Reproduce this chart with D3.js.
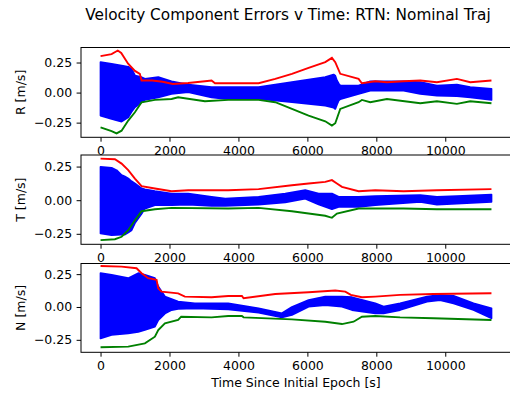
<!DOCTYPE html>
<html>
<head>
<meta charset="utf-8">
<script src="https://cdn.jsdelivr.net/npm/d3@7"></script>
<style>
  body { margin: 0; background: #fff; }
  svg { display: block; font-family: "DejaVu Sans", sans-serif; }
</style>
</head>
<body>
<div id="chart"></div>
<script>
// x ticks shared by the three panels
const xTicks = [0, 2000, 4000, 6000, 8000, 10000];
const yTicks = [-0.25, 0, 0.25];

// R component: [time s, value m/s]
const rUpper = [[0,0.303],[320,0.32],[500,0.35],[600,0.33],[800,0.24],[997,0.18],[1140,0.156],[1190,0.10],[1500,0.1],[1800,0.09],[2100,0.072],[2540,0.08],[3030,0.094],[3220,0.1],[3320,0.078],[3700,0.078],[4585,0.078],[5068,0.114],[5552,0.156],[6035,0.206],[6519,0.253],[6712,0.289],[6809,0.253],[6954,0.156],[7486,0.114],[7580,0.078],[7969,0.094],[8308,0.086],[8791,0.094],[9275,0.1],[9758,0.086],[10338,0.114],[10725,0.086],[11340,0.1]];
const rLower = [[0,-0.289],[320,-0.32],[465,-0.339],[610,-0.317],[803,-0.233],[997,-0.164],[1190,-0.081],[1577,-0.061],[2060,-0.053],[2250,-0.039],[3027,-0.072],[3704,-0.061],[4585,-0.061],[5068,-0.08],[5552,-0.136],[6035,-0.191],[6519,-0.239],[6712,-0.275],[6809,-0.255],[6954,-0.136],[7486,-0.08],[7582,-0.061],[7824,-0.08],[8308,-0.053],[9275,-0.089],[9758,-0.072],[10338,-0.094],[10725,-0.072],[11340,-0.089]];
// runs envelope: [time, top, bottom]
const rRuns = [[0,0.253,-0.191],[320,0.239,-0.219],[610,0.225,-0.241],[803,0.214,-0.205],[900,0.197,-0.16],[997,0.142,-0.122],[1190,0.128,-0.081],[1286,0.114,-0.06],[1674,0.128,-0.039],[2060,0.094,-0.011],[2544,0.067,0.003],[3220,0.045,-0.04],[3618,0.045,-0.053],[4585,0.045,-0.053],[5552,0.086,-0.08],[6519,0.128,-0.108],[6760,0.15,-0.125],[6809,0.14,-0.136],[6857,0.1,-0.1],[6906,0.075,-0.067],[6954,0.058,-0.055],[7486,0.058,-0.011],[7824,0.094,0.017],[8791,0.094,0.017],[9275,0.086,-0.011],[9758,0.058,-0.025],[10338,0.067,-0.03],[10725,0.045,-0.039],[11340,0.031,-0.061]];

// T component
const tUpper = [[0,0.309],[417,0.304],[610,0.272],[803,0.223],[997,0.161],[1190,0.104],[1577,0.087],[2060,0.067],[2544,0.074],[3704,0.074],[4585,0.082],[5552,0.111],[6035,0.124],[6519,0.136],[6712,0.149],[6857,0.124],[7003,0.099],[7486,0.067],[7969,0.074],[8791,0.067],[9758,0.074],[11340,0.082]];
const tLower = [[0,-0.297],[417,-0.29],[610,-0.272],[803,-0.223],[997,-0.149],[1190,-0.082],[1577,-0.067],[2060,-0.057],[3704,-0.062],[4585,-0.057],[5552,-0.082],[6035,-0.099],[6519,-0.116],[6712,-0.131],[6857,-0.099],[7486,-0.062],[8791,-0.062],[9758,-0.067],[11340,-0.067]];
const tRuns = [[0,0.247,-0.247],[320,0.24,-0.26],[465,0.223,-0.258],[610,0.186,-0.256],[707,0.175,-0.255],[803,0.161,-0.24],[900,0.14,-0.223],[997,0.124,-0.17],[1190,0.087,-0.1],[1286,0.08,-0.062],[1577,0.067,-0.037],[2060,0.049,-0.037],[2544,0.049,-0.032],[3220,0.025,-0.042],[3618,0.012,-0.042],[4585,0.025,-0.032],[5358,0.049,-0.017],[5938,0.074,0.012],[6326,0.049,-0.032],[6712,0.049,-0.067],[6906,0.025,-0.05],[7486,0.025,-0.05],[7969,0.03,-0.037],[9275,0.037,-0.012],[9758,0.025,-0.032],[10338,0.03,-0.025],[11340,0.042,-0.012]];

// N component
const nUpper = [[0,0.312],[610,0.307],[1045,0.295],[1190,0.257],[1383,0.219],[1625,0.206],[1674,0.142],[1770,0.117],[2250,0.104],[2447,0.079],[3220,0.074],[3704,0.084],[4101,0.084],[4150,0.066],[5068,0.099],[6035,0.112],[6809,0.125],[7100,0.117],[7260,0.092],[7582,0.074],[7969,0.079],[8690,0.092],[9657,0.099],[11340,0.104]];
const nLower = [[0,-0.307],[803,-0.302],[1286,-0.277],[1577,-0.226],[1674,-0.175],[1867,-0.124],[2250,-0.099],[2340,-0.074],[3220,-0.079],[3704,-0.069],[4101,-0.069],[4150,-0.079],[5552,-0.094],[6519,-0.112],[7003,-0.13],[7340,-0.112],[7582,-0.074],[7969,-0.069],[8690,-0.079],[9657,-0.086],[11340,-0.099]];
const nRuns = [[0,0.257,-0.239],[320,0.244,-0.213],[803,0.219,-0.2],[1093,0.257,-0.19],[1286,0.244,-0.175],[1577,0.219,-0.15],[1674,0.155,-0.1],[1867,0.079,-0.05],[2060,0.06,-0.023],[2250,0.041,-0.015],[2737,0.028,-0.01],[3704,0.028,-0.018],[4585,-0.01,-0.043],[5261,-0.048,-0.079],[5552,0,-0.061],[6035,0.053,0.003],[6519,0.079,0.015],[7003,0.079,0.003],[7294,0.074,-0.023],[7969,0.028,-0.048],[8211,0.003,-0.048],[8690,0.028,-0.023],[9470,0.079,0.041],[9850,0.092,0.053],[10240,0.084,0.028],[10820,0.028,-0.023],[11340,-0.01,-0.086]];

const width = 510, height = 396;
const left = 81, right = 511;
const fs = 12.5;     // 10pt at 90 dpi
const tick = 4.4;    // 3.5pt

const svg = d3.select("#chart").append("svg")
  .attr("width", width)
  .attr("height", height);

const x = d3.scaleLinear().domain([-567, 11907]).range([left, right]);

const panels = [
  { label: "R [m/s]", top: 47.5, bottom: 137.3, yDom: [-0.372, 0.375], upper: rUpper, lower: rLower, runs: rRuns },
  { label: "T [m/s]", top: 155, bottom: 244.3, yDom: [-0.328, 0.336], upper: tUpper, lower: tLower, runs: tRuns },
  { label: "N [m/s]", top: 263.5, bottom: 352.3, yDom: [-0.345, 0.331], upper: nUpper, lower: nLower, runs: nRuns }
];

const fmtY = d => d === 0 ? "0.00" : d3.format(".2f")(d).replace("-", "\u2212");

panels.forEach(p => {
  const y = d3.scaleLinear().domain(p.yDom).range([p.bottom, p.top]);
  const g = svg.append("g");

  // white axes background covers tick labels of the panel above
  g.append("rect")
    .attr("x", left).attr("y", p.top)
    .attr("width", right - left).attr("height", p.bottom - p.top)
    .attr("fill", "#fff");

  const clipId = "clip" + p.label[0];
  g.append("clipPath").attr("id", clipId)
    .append("rect")
    .attr("x", left).attr("y", p.top)
    .attr("width", right - left).attr("height", p.bottom - p.top);

  const plot = g.append("g").attr("clip-path", `url(#${clipId})`);

  const area = d3.area()
    .x(d => x(d[0]))
    .y0(d => y(d[2]))
    .y1(d => y(d[1]));

  plot.append("path")
    .datum(p.runs)
    .attr("d", area)
    .attr("fill", "#0000ff")
    .attr("stroke", "#0000ff")
    .attr("stroke-width", 1.8)
    .attr("stroke-linejoin", "round");

  const line = d3.line().x(d => x(d[0])).y(d => y(d[1]));

  plot.append("path").datum(p.upper)
    .attr("d", line).attr("fill", "none")
    .attr("stroke", "#ff0000").attr("stroke-width", 1.9);
  plot.append("path").datum(p.lower)
    .attr("d", line).attr("fill", "none")
    .attr("stroke", "#008000").attr("stroke-width", 1.9);

  // axes
  const xAxis = d3.axisBottom(x).tickValues(xTicks).tickFormat(d3.format("d"))
    .tickSizeInner(tick).tickSizeOuter(0).tickPadding(tick);
  const gx = g.append("g").attr("transform", `translate(0,${p.bottom})`).call(xAxis);

  const yAxis = d3.axisLeft(y).tickValues(yTicks).tickFormat(fmtY)
    .tickSizeInner(tick).tickSizeOuter(0).tickPadding(tick);
  const gy = g.append("g").attr("transform", `translate(${left},0)`).call(yAxis);

  [gx, gy].forEach(a => {
    a.select(".domain").remove();
    a.selectAll(".tick line").attr("stroke", "#000").attr("stroke-width", 1);
    a.selectAll(".tick text").attr("fill", "#000")
      .attr("font-size", fs)
      .attr("font-family", "DejaVu Sans");
  });

  // frame
  g.append("rect")
    .attr("x", left).attr("y", p.top)
    .attr("width", right - left).attr("height", p.bottom - p.top)
    .attr("fill", "none").attr("stroke", "#000").attr("stroke-width", 1);

  svg.append("text")
    .attr("transform", `translate(21,${(p.top + p.bottom) / 2}) rotate(-90)`)
    .attr("text-anchor", "middle")
    .attr("dy", "0.35em")
    .attr("font-size", fs)
    .text(p.label);
});

svg.append("text")
  .attr("x", 288).attr("y", 20)
  .attr("text-anchor", "middle")
  .attr("font-size", 15.3)
  .text("Velocity Component Errors v Time: RTN: Nominal Traj");

svg.append("text")
  .attr("x", (left + right) / 2).attr("y", 387)
  .attr("text-anchor", "middle")
  .attr("font-size", fs)
  .text("Time Since Initial Epoch [s]");
</script>
</body>
</html>
